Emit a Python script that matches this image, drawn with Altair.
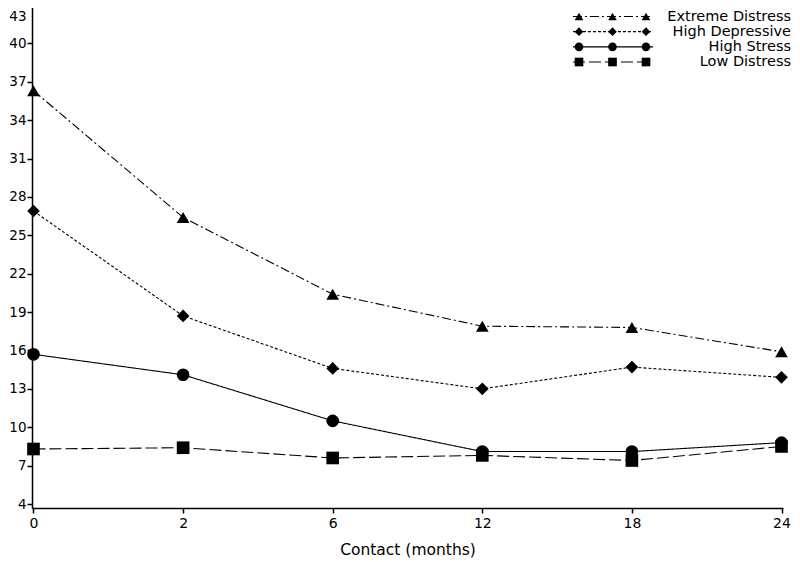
import altair as alt
import pandas as pd

months = ["0", "2", "6", "12", "18", "24"]
series = ["Extreme Distress", "High Depressive", "High Stress", "Low Distress"]
extreme = [36.3, 26.4, 20.4, 17.9, 17.8, 15.9]
depressive = [26.9, 18.7, 14.6, 13.0, 14.7, 13.9]
stress = [15.7, 14.1, 10.5, 8.1, 8.1, 8.8]
low = [8.3, 8.4, 7.6, 7.8, 7.4, 8.5]
y_ticks = list(range(4, 44, 3))

shapes = ["triangle-up", "diamond", "circle", "square"]
dashes = [[9, 3, 2, 3], [3, 2], [1, 0], [12, 4]]

rows = []
for s, vals in zip(series, [extreme, depressive, stress, low]):
    for m, v in zip(months, vals):
        rows.append({"series": s, "month": m, "value": v})
df = pd.DataFrame(rows)

leg_pts = pd.DataFrame([{"series": s, "k": k} for s in series for k in [0, 1, 2]])
leg_line = pd.DataFrame([{"series": s, "k": k} for s in series for k in [-0.18, 2.21]])
leg_txt = pd.DataFrame({"series": series})

FONT = "DejaVu Sans"
dash_scale = alt.Scale(domain=series, range=dashes)
shape_scale = alt.Scale(domain=series, range=shapes)

x_enc = alt.X(
    "month:O", sort=months,
    scale=alt.Scale(type="point", padding=0.01),
    axis=alt.Axis(title="Contact (months)", labelAngle=0, tickSize=5, labelPadding=3,
                  labelFontSize=14, titleFontSize=15.5, titlePadding=12,
                  titleFontWeight="normal"),
)
y_enc = alt.Y(
    "value:Q",
    scale=alt.Scale(domain=[3.69, 43.39], nice=False, zero=False),
    axis=alt.Axis(values=y_ticks, title=None, tickSize=5, labelPadding=1, labelFontSize=13.5,
                  labelOffset={"condition": {"test": "datum.value >= 43", "value": 11.5}, "value": 0}),
)

lines = alt.Chart(df).mark_line(color="black", strokeWidth=1.1).encode(
    x=x_enc, y=y_enc, detail="series:N",
    strokeDash=alt.StrokeDash("series:N", scale=dash_scale, legend=None),
)
points = alt.Chart(df).mark_point(filled=True, color="black", size=160, opacity=1).encode(
    x=x_enc, y=y_enc,
    shape=alt.Shape("series:N", scale=shape_scale, legend=None),
)
main = alt.layer(lines, points)

ly = alt.Y("series:N", scale=alt.Scale(type="point", domain=series, range=[16.5, 62], padding=0), axis=None)
lx = alt.X("k:Q", scale=alt.Scale(domain=[0, 2], range=[547, 614], nice=False, zero=False), axis=None)

leg_lines = alt.Chart(leg_line).mark_line(color="black", strokeWidth=1.1).encode(
    x=lx, y=ly, detail="series:N",
    strokeDash=alt.StrokeDash("series:N", scale=dash_scale, legend=None),
)
leg_points = alt.Chart(leg_pts).mark_point(filled=True, color="black", size=75, opacity=1).encode(
    x=lx, y=ly,
    shape=alt.Shape("series:N", scale=shape_scale, legend=None),
)
leg_text = alt.Chart(leg_txt).mark_text(
    align="right", baseline="middle", fontSize=14.5, font=FONT, color="black"
).encode(x=alt.value(759), y=ly, text="series:N")
legend = alt.layer(leg_lines, leg_points, leg_text)

chart = (
    alt.layer(main, legend)
    .resolve_scale(x="independent", y="independent")
    .properties(width=751, height=508, autosize="none",
                padding={"left": 24, "top": -8, "right": 9, "bottom": 54})
    .configure_view(stroke=None)
    .configure_axis(
        domainColor="black", tickColor="black", labelColor="black", titleColor="black",
        labelFont=FONT, titleFont=FONT, grid=False, domainWidth=1.5, tickWidth=1.5,
    )
)

chart.save("out.html", embed_options={"renderer": "svg", "actions": False})
